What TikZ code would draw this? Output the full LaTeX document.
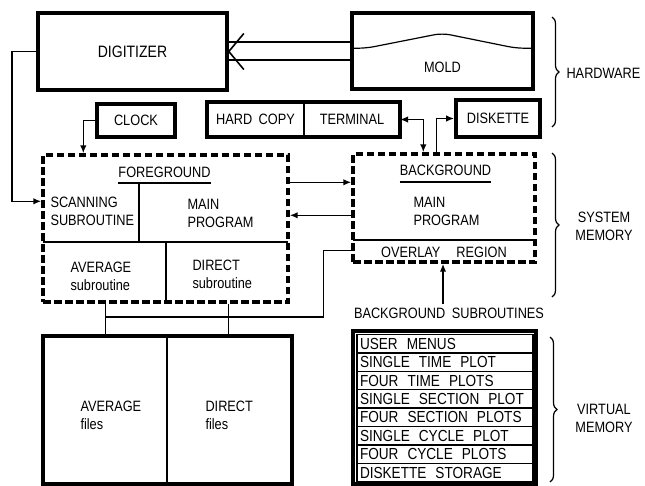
\documentclass[tikz,border=0pt]{standalone}
\usepackage{fontspec}
\setmainfont{Liberation Sans}[FakeStretch=0.85]
\usetikzlibrary{arrows.meta,positioning,calc,decorations.pathreplacing}
\newcommand\dgfont{\fontsize{15}{18}\selectfont\spaceskip=6.5pt plus 1pt\relax}
\newcommand\rowfont{\fontsize{16}{17}\selectfont}
\newcommand\widefont{\fontsize{15}{18}\selectfont\spaceskip=16pt plus 1pt\relax}

\begin{document}
\begin{tikzpicture}[
x=1pt, y=-1pt,
every node/.style={font=\dgfont},
box/.style={draw, line width=3.6pt, inner sep=0pt},
dbox/.style={draw, line width=3.4pt, dash pattern=on 7.5pt off 3.5pt, inner sep=0pt},
line/.style={line width=1.6pt},
arr/.style={-{Latex[length=8pt,width=6.5pt]}, line width=1.6pt},
darr/.style={{Latex[length=8pt,width=6.5pt]}-{Latex[length=8pt,width=6.5pt]}, line width=1.6pt},
row/.style={draw, line width=1.3pt, minimum height=18.4pt, text width=170pt, inner xsep=3pt, inner ysep=0pt, align=left, font=\rowfont, execute at begin node={\spaceskip=9pt plus 1pt\relax}},
brc/.style={decorate, decoration={brace, amplitude=7pt}, line width=1.2pt}
]
\useasboundingbox (0,0) rectangle (645,485);

% hardware
\node[box, minimum width=189pt, minimum height=77pt, font=\fontsize{16.5}{18}\selectfont] (digitizer) at (132.5,51.5) {DIGITIZER};
\node[box, minimum width=181pt, minimum height=76pt] (mold) at (442.5,51) {};
\node (moldtext) at ([yshift=-16pt]mold.center) {MOLD};
\draw[line, line width=1.2pt, rounded corners=8pt, shift={(mold.north west)}] (0,37) -- (16,37) -- (92,22) -- (166,37) -- (181,37);
\node[box, minimum width=78pt, minimum height=33pt] (clock) at (136,120.5) {CLOCK};
\node[draw, line width=1.6pt, outer sep=0pt, minimum width=97pt, minimum height=35pt, inner sep=0pt] (hardcopy) at (255.5,119.5) {HARD COPY};
\node[draw, line width=1.6pt, outer sep=0pt, minimum width=96pt, minimum height=35pt, inner sep=0pt] (terminal) at (352,119.5) {TERMINAL};
\draw[box] (hardcopy.north west) rectangle (terminal.south east);
\node[box, minimum width=84pt, minimum height=37pt] (diskette) at (498,118.5) {DISKETTE};

% system memory
\node[dbox, minimum width=245pt, minimum height=147pt] (fg) at (165.5,228.5) {};
\node[inner sep=0pt, anchor=base] (fglbl) at (164.5,177) {FOREGROUND};
\draw[line] ([yshift=-6pt]fglbl.base west) -- ([yshift=-6pt]fglbl.base east);
\begin{scope}[shift={(43,155)}]
\draw[line] (96,28) -- (96,87);
\draw[line] (0,87) -- (245,87);
\draw[line] (123,87) -- (123,147);
\end{scope}
\node[anchor=west, align=left] (scan) at (47,211) {SCANNING\\SUBROUTINE};
\node[anchor=west, align=left] (fgmain) at (184,213.5) {MAIN\\PROGRAM};
\node[anchor=west, align=left] (avgsub) at (67,276) {AVERAGE\\subroutine};
\node[anchor=west, align=left] (dirsub) at (189,274) {DIRECT\\subroutine};

\node[dbox, minimum width=182pt, minimum height=108pt] (bg) at (444,208) {};
\node[inner sep=0pt, anchor=base] (bglbl) at (445.5,175.5) {BACKGROUND};
\draw[line] ([yshift=-6.5pt]bglbl.base west) -- ([yshift=-6.5pt]bglbl.base east);
\draw[line] (353,240) -- (535,240);
\node[anchor=west, align=left] (bgmain) at (410,211) {MAIN\\PROGRAM};
\node[font=\widefont] (overlay) at (444,252) {OVERLAY REGION};

% virtual memory
\node[box, minimum width=249pt, minimum height=148pt] (files) at (167.5,410) {};
\draw[line] (167,336) -- (167,484);
\node[anchor=west, align=left] (avgfiles) at (77,415.5) {AVERAGE\\files};
\node[anchor=west, align=left] (dirfiles) at (202,415.5) {DIRECT\\files};

\node (bgsubs) at (449,313) {BACKGROUND SUBROUTINES};
\node[box, minimum width=183pt, minimum height=153pt] (subs) at (444.5,407.5) {};
\foreach \t [count=\i] in {USER MENUS, SINGLE TIME PLOT, FOUR TIME PLOTS, SINGLE SECTION PLOT, FOUR SECTION PLOTS, SINGLE CYCLE PLOT, FOUR CYCLE PLOTS, DISKETTE STORAGE}
  \node[row] (row\i) at (445,{325.3+\i*18.4}) {\t};

% braces
\draw[brc] (552,17) -- (552,127);
\node[anchor=west] (hwlbl) at (563,73) {HARDWARE};
\draw[brc] (552,153) -- (552,297);
\node[align=center] (smlbl) at (604,226) {SYSTEM\\MEMORY};
\draw[brc] (550,337) -- (550,482);
\node[align=center] (vmlbl) at (604,418) {VIRTUAL\\MEMORY};

% connectors
\coordinate (m1) at ([yshift=9pt]mold.west);
\coordinate (m2) at ([yshift=-9pt]mold.west);
\draw[line] (m1) -- (m1 -| digitizer.east);
\draw[line] (m2) -- (m2 -| digitizer.east);
\draw[line] ([xshift=15pt,yshift=18pt]digitizer.east) -- (digitizer.east) -- ([xshift=15pt,yshift=-18pt]digitizer.east);

\coordinate (d1) at ([yshift=-48pt]fg.north west);
\draw[arr] (digitizer.west) -- ++(-24pt,0) |- (d1);
\draw[arr] (clock.west) -| ([xshift=42pt]fg.north west);
\draw[darr] (terminal.east) -| ([xshift=72pt]bg.north west);
\draw[arr] ([xshift=85pt]bg.north west) |- (diskette.west);

\coordinate (f1) at ([yshift=-29pt]fg.north east);
\draw[arr] (f1) -- (f1 -| bg.west);
\coordinate (b1) at ([yshift=-63pt]bg.north west);
\draw[arr] (b1) -- (b1 -| fg.east);

\coordinate (ov) at ([yshift=-98pt]bg.north west);
\coordinate (bus) at ([xshift=64pt,yshift=-13pt]fg.south west);
\coordinate (bus2) at ([xshift=187pt]fg.south west);
\draw[line] (ov) -- ++(-28pt,0) |- (bus);
\draw[line] (fg.south west -| bus) -- (files.north west -| bus);
\draw[line] (fg.south west -| bus2) -- (files.north west -| bus2);

\coordinate (s1) at ([xshift=-6pt]bgsubs.north);
\draw[arr] (s1) -- (s1 |- bg.south);
\end{tikzpicture}
\end{document}
